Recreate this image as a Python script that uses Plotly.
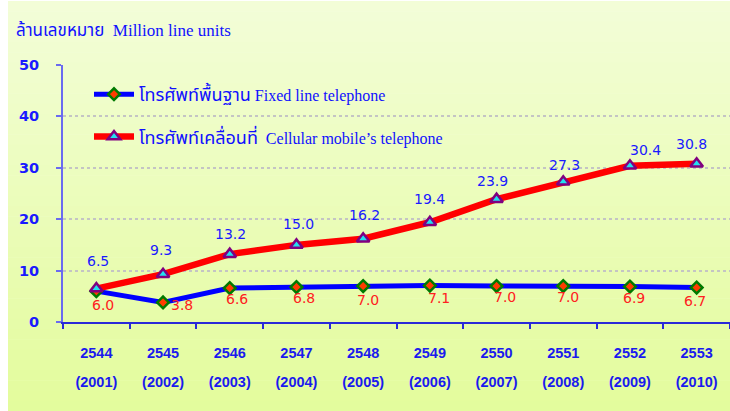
import plotly.graph_objects as go

# ---------------- data ----------------
years_be = ["2544", "2545", "2546", "2547", "2548", "2549", "2550", "2551", "2552", "2553"]
years_ce = ["2001", "2002", "2003", "2004", "2005", "2006", "2007", "2008", "2009", "2010"]
fixed_line = [6.0, 3.8, 6.6, 6.8, 7.0, 7.1, 7.0, 7.0, 6.9, 6.7]
cellular = [6.5, 9.3, 13.2, 15.0, 16.2, 19.4, 23.9, 27.3, 30.4, 30.8]
y_ticks = [0, 10, 20, 30, 40, 50]

fixed_name_th = "โทรศัพท์พื้นฐาน"
fixed_name_en = "Fixed line telephone"
cell_name_th = "โทรศัพท์เคลื่อนที่"
cell_name_en = "Cellular mobile’s telephone"
title_th = "ล้านเลขหมาย"
title_en = "Million line units"

# label placement (styling): pixel shifts relative to each point
cell_label_dy = [28, 24, 20, 21, 24, 23, 18, 17, 16, 20]
cell_label_dx = [2, -2, 1, 2, 1, 0, -4, 1, 16, -5]
fixed_label_dy = [-14, -3, -11, -11, -14, -12, -11, -11, -11, -13]
fixed_label_dx = [7, 19, 7, 8, 5, 9, 8, 5, 4, -2]

# ---------------- layout constants ----------------
W, H = 730, 411
ML, MR, MT, MB = 63, 0, 65, 89
PW, PH = W - ML - MR, H - MT - MB

BLUE_TXT = "#1a1aff"
RED_TXT = "#ff2020"
THAI_FONT = "Noto Sans Thai, Noto Sans, DejaVu Sans, sans-serif"
SERIF = "Liberation Serif, serif"


def px_x(px):
    return (px - ML) / PW


def px_y(py):
    return (H - MB - py) / PH


def lerp_color(c1, c2, t):
    a = [int(c1[i:i + 2], 16) for i in (1, 3, 5)]
    b = [int(c2[i:i + 2], 16) for i in (1, 3, 5)]
    return "#" + "".join(f"{round(a[k] + (b[k] - a[k]) * t):02x}" for k in range(3))


x_idx = list(range(len(years_be)))
tick_text = [
    f"<span style='font-size:14.5px'>{b}</span><br><span style='font-size:14.5px'>({c})</span>"
    for b, c in zip(years_be, years_ce)
]

fig = go.Figure()

fig.add_trace(go.Scatter(
    x=x_idx, y=fixed_line, mode="lines+markers",
    name=f"<span style='font-size:18px'>{fixed_name_th}</span>"
         f"<span style='font-size:16px;font-family:{SERIF}'> {fixed_name_en}</span>",
    legendgroup="g1",
    line=dict(color="#0000ff", width=5),
    marker=dict(symbol="diamond", size=9, color="#ff3c00",
                line=dict(color="#007a00", width=2.5)),
))
fig.add_trace(go.Scatter(
    x=x_idx, y=cellular, mode="lines+markers",
    name=f"<span style='font-size:18px'>{cell_name_th}</span>"
         f"<span style='font-size:16px;font-family:{SERIF}'>  {cell_name_en}</span>",
    legendgroup="g2",
    line=dict(color="#ff0000", width=6.5),
    marker=dict(symbol="triangle-up", size=11, color="#22e0f0",
                line=dict(color="#800080", width=2.5)),
))

annotations = []
for i, v in enumerate(cellular):
    annotations.append(dict(
        x=i, y=v, xref="x", yref="y", text=f"{v:.1f}", showarrow=False,
        xshift=cell_label_dx[i], yshift=cell_label_dy[i],
        font=dict(family="DejaVu Sans, sans-serif", size=14, color=BLUE_TXT),
    ))
for i, v in enumerate(fixed_line):
    annotations.append(dict(
        x=i, y=v, xref="x", yref="y", text=f"{v:.1f}", showarrow=False,
        xshift=fixed_label_dx[i], yshift=fixed_label_dy[i],
        font=dict(family="DejaVu Sans, sans-serif", size=14, color=RED_TXT),
    ))
annotations.append(dict(
    x=px_x(14), y=px_y(31), xref="paper", yref="paper", xanchor="left", yanchor="middle",
    text=f"<span style='font-family:{THAI_FONT};font-size:17px'>{title_th}</span>"
         f"<span style='font-family:{SERIF};font-size:17px'>  {title_en}</span>",
    showarrow=False, font=dict(color="#1010ff", size=17),
))

# background gradient (decorative)
shapes = []
N = 40
top_c, bot_c = "#f3fdd8", "#e3fc9c"
for k in range(N):
    y0p = 1 + k * (H - 1) / N
    y1p = 1 + (k + 1) * (H - 1) / N
    shapes.append(dict(
        type="rect", xref="paper", yref="paper", layer="below",
        x0=px_x(8), x1=px_x(W), y0=px_y(y1p + 0.5), y1=px_y(y0p),
        fillcolor=lerp_color(top_c, bot_c, (k + 0.5) / N), line=dict(width=0),
    ))

fig.update_layout(
    width=W, height=H,
    margin=dict(l=ML, r=MR, t=MT, b=MB, autoexpand=False),
    paper_bgcolor="#ffffff",
    plot_bgcolor="rgba(0,0,0,0)",
    showlegend=True,
    legend=dict(
        x=px_x(89), y=px_y(76), xanchor="left", yanchor="top",
        bgcolor="rgba(0,0,0,0)", font=dict(family=THAI_FONT, size=18, color="#1010ff"),
        tracegroupgap=16, itemwidth=40,
    ),
    xaxis=dict(
        type="linear", range=[-0.5, 9.5], automargin=False,
        tickmode="array", tickvals=x_idx, ticktext=tick_text,
        showgrid=False, zeroline=False,
        showline=True, linecolor="#2a2ad8", linewidth=1.5,
        ticks="",
        tickfont=dict(family="Liberation Sans, Arial, sans-serif", size=22,
                      color="#1a1aee", weight="bold"),
        ticklabelstandoff=8,
    ),
    xaxis2=dict(
        overlaying="x", range=[-0.5, 9.5], tickmode="array", automargin=False,
        tickvals=[i - 0.5 for i in range(len(years_be) + 1)],
        ticktext=["" for _ in range(len(years_be) + 1)],
        ticks="outside", ticklen=6, tickwidth=1.5, tickcolor="#2a2ad8",
        showgrid=False, zeroline=False, showline=False, side="bottom",
    ),
    yaxis=dict(
        range=[0, 50], tickmode="array", tickvals=y_ticks, automargin=False,
        showgrid=True, gridcolor="#c4c4c4", gridwidth=2, griddash="dot",
        zeroline=False, showline=True, linecolor="#6a6af0", linewidth=2,
        ticks="outside", ticklen=5, tickcolor="#6a6af0", tickwidth=1.5,
        tickfont=dict(family="DejaVu Sans, sans-serif", size=14.5, color="#1a1aff", weight="bold"),
        ticklabelstandoff=14,
    ),
    annotations=annotations,
    shapes=shapes,
)
# invisible helper trace so the boundary ticks on xaxis2 are drawn
fig.add_trace(go.Scatter(x=[0], y=[0], xaxis="x2", mode="markers",
                         marker=dict(opacity=0), showlegend=False, hoverinfo="skip"))

fig.write_html("out.html", config={"displayModeBar": False},
               post_script="document.body.style.margin='0px';")
